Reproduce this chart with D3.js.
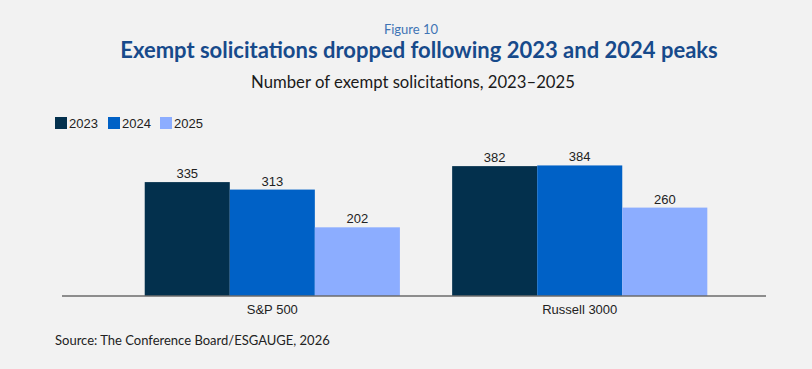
<!DOCTYPE html>
<html><head><meta charset="utf-8">
<script src="https://cdn.jsdelivr.net/npm/d3@7"></script>
<style>html,body{margin:0;padding:0;background:#f2f2f2;}</style>
</head><body>
<svg id="c" width="812" height="369"></svg>
<script>
const categories = ["S&P 500", "Russell 3000"];
const seriesNames = ["2023", "2024", "2025"];
const values2023 = [335, 382];
const values2024 = [313, 384];
const values2025 = [202, 260];
const colors = ["#03304d", "#0061c6", "#8cadff"];

const seriesValues = [values2023, values2024, values2025];
const data = categories.map((c, i) => ({cat: c, vals: seriesNames.map((s, j) => ({s, v: seriesValues[j][i], j}))}));

const svg = d3.select("#c");
svg.append("rect").attr("width", 812).attr("height", 369).attr("fill", "#f2f2f2");

const sans = "Lato, 'Open Sans', sans-serif";
const arial = "'Liberation Sans', Arial, sans-serif";

svg.append("text").attr("x", 411).attr("y", 34).attr("text-anchor", "middle")
  .attr("font-family", sans).attr("font-size", 13).attr("fill", "#3f74b5").text("Figure 10");
svg.append("text").attr("x", 419).attr("y", 58).attr("text-anchor", "middle")
  .attr("font-family", sans).attr("font-weight", "bold").attr("font-size", 22).attr("fill", "#174a8b")
  .text("Exempt solicitations dropped following 2023 and 2024 peaks");
svg.append("text").attr("x", 413).attr("y", 88).attr("text-anchor", "middle")
  .attr("font-family", sans).attr("font-size", 16.7).attr("fill", "#1a1a1a")
  .text("Number of exempt solicitations, 2023\u20132025");

// legend
const leg = svg.append("g");
const legX = [55, 108, 160];
seriesNames.forEach((s, i) => {
  leg.append("rect").attr("x", legX[i]).attr("y", 117).attr("width", 12).attr("height", 12).attr("fill", colors[i]);
  leg.append("text").attr("x", legX[i] + 14).attr("y", 128).attr("font-family", arial).attr("font-size", 13)
    .attr("fill", "#222").text(s);
});

const axisLeft = 62, axisRight = 766, baseY = 296;
const x0 = d3.scaleBand().domain(categories).range([axisLeft, axisRight])
  .paddingInner(0.17).paddingOuter(0.23).align(0.585);
const x1 = d3.scaleBand().domain(seriesNames).range([0, x0.bandwidth()]).padding(0);
const y = d3.scaleLinear().domain([0, 400]).range([baseY, 160]);

const g = svg.append("g");
const groups = g.selectAll("g.grp").data(data).enter().append("g")
  .attr("transform", d => `translate(${x0(d.cat)},0)`);
groups.selectAll("rect").data(d => d.vals).enter().append("rect")
  .attr("x", d => x1(d.s)).attr("width", x1.bandwidth())
  .attr("y", d => y(d.v)).attr("height", d => baseY - y(d.v))
  .attr("fill", d => colors[d.j]);
groups.selectAll("text").data(d => d.vals).enter().append("text")
  .attr("x", d => x1(d.s) + x1.bandwidth() / 2).attr("y", d => y(d.v) - 4)
  .attr("text-anchor", "middle").attr("font-family", arial).attr("font-size", 13).attr("fill", "#222")
  .text(d => d.v);

// x axis
const xAxis = d3.axisBottom(x0).tickSize(0).tickPadding(9);
const ax = svg.append("g").attr("transform", `translate(0,${baseY})`).call(xAxis);
ax.select(".domain").remove();
ax.append("line").attr("x1", axisLeft).attr("x2", axisRight).attr("y1", 0).attr("y2", 0)
  .attr("stroke", "#6b6b6b").attr("stroke-width", 1.5);
ax.selectAll(".tick text").attr("font-family", arial).attr("font-size", 13).attr("fill", "#222");

svg.append("text").attr("x", 55).attr("y", 345).attr("font-family", sans).attr("font-size", 13)
  .attr("fill", "#222").text("Source: The Conference Board/ESGAUGE, 2026");
</script>
</body></html>
